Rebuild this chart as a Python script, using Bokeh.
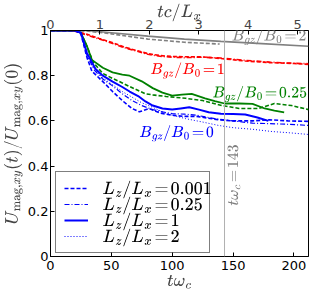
from bokeh.plotting import figure
from bokeh.models import LinearAxis, Range1d, Label, Span, Legend, LegendItem
from bokeh.embed import file_html
from bokeh.resources import INLINE

# ---------------- data ----------------
# B_gz/B0 = 2 (gray)
g_solid_t = [0, 30, 50, 80, 110, 140, 170, 212]
g_solid_v = [1.0, 1.0, 0.99, 0.975, 0.962, 0.952, 0.943, 0.93]
g_dash_t = [0, 30, 50, 80, 110, 139]
g_dash_v = [1.0, 0.998, 0.985, 0.962, 0.948, 0.94]

# B_gz/B0 = 1 (red)
r_dd_t = [0, 20, 30, 40, 50, 60, 70, 80, 90, 100, 110, 125, 140, 160, 180, 200, 212]
r_dd_v = [1.0, 0.997, 0.98, 0.962, 0.945, 0.925, 0.91, 0.895, 0.886, 0.882, 0.88, 0.882, 0.878, 0.868, 0.86, 0.855, 0.853]
r_dash_t = [0, 20, 30, 40, 50, 60, 70, 80, 90, 100, 110, 125, 140, 160, 180, 200, 212]
r_dash_v = [1.0, 0.997, 0.983, 0.965, 0.948, 0.928, 0.912, 0.898, 0.889, 0.885, 0.884, 0.883, 0.876, 0.865, 0.858, 0.854, 0.85]

# B_gz/B0 = 0.25 (green)
gr_solid_t = [0, 20, 25, 30, 34, 43, 51, 59, 65, 75, 84, 92, 100, 108, 116, 127, 135, 143, 155, 166, 176, 184, 192]
gr_solid_v = [1.0, 1.0, 0.99, 0.93, 0.87, 0.835, 0.815, 0.805, 0.8, 0.775, 0.745, 0.725, 0.712, 0.716, 0.72, 0.70, 0.688, 0.677, 0.677, 0.675, 0.655, 0.645, 0.638]
gr_dash_t = [0, 20, 25, 30, 35, 43, 51, 59, 65, 78, 84, 95, 111, 125, 141, 155, 171, 184, 198, 212]
gr_dash_v = [1.0, 1.0, 0.99, 0.93, 0.86, 0.81, 0.788, 0.768, 0.752, 0.72, 0.715, 0.708, 0.70, 0.69, 0.668, 0.655, 0.655, 0.677, 0.668, 0.65]

# B_gz/B0 = 0 (blue), four L_z/L_x
b_dash_t = [0, 20, 25, 30, 34, 43, 51, 59, 67, 73, 81, 90, 100, 110, 120, 138, 150, 166, 180, 195, 212]
b_dash_v = [1.0, 1.0, 0.985, 0.88, 0.82, 0.774, 0.73, 0.69, 0.655, 0.64, 0.655, 0.635, 0.625, 0.62, 0.62, 0.605, 0.60, 0.60, 0.605, 0.60, 0.598]
b_dd_t = [0, 20, 25, 30, 36, 43, 51, 59, 67, 75, 84, 92, 100, 110, 120, 135, 150, 166, 180, 195, 212]
b_dd_v = [1.0, 1.0, 0.987, 0.89, 0.825, 0.785, 0.755, 0.72, 0.69, 0.668, 0.65, 0.64, 0.632, 0.63, 0.625, 0.61, 0.60, 0.59, 0.588, 0.585, 0.58]
b_solid_t = [0, 20, 25, 30, 37, 43, 51, 59, 65, 72, 78, 84, 92, 100, 107, 114, 122, 130, 140, 150, 160, 170, 179]
b_solid_v = [1.0, 1.0, 0.99, 0.9, 0.83, 0.8, 0.774, 0.75, 0.73, 0.71, 0.686, 0.668, 0.655, 0.65, 0.655, 0.66, 0.65, 0.638, 0.632, 0.63, 0.628, 0.615, 0.60]
b_dot_t = [0, 20, 25, 30, 36, 43, 51, 59, 67, 75, 84, 92, 100, 111, 125, 138, 150, 166, 182, 195, 212]
b_dot_v = [1.0, 1.0, 0.987, 0.89, 0.83, 0.79, 0.76, 0.73, 0.705, 0.68, 0.66, 0.64, 0.625, 0.61, 0.595, 0.58, 0.57, 0.563, 0.553, 0.548, 0.54]

legend_labels = ["$$L_z/L_x\\!=\\!0.001$$", "$$L_z/L_x\\!=\\!0.25$$", "$$L_z/L_x\\!=\\!1$$", "$$L_z/L_x\\!=\\!2$$"]
t_marker = 143
tcl_ratio = 40.6  # t*omega_c per unit of tc/L_x
x_max = 212

BLUE, GREEN, RED, GRAY = "#0000ff", "#008000", "#ff0000", "#808080"
DASH, DASHDOT, DOT = "4 2", "5 2 1 2", "1 2"

FW, FH = 258, 226
p = figure(frame_width=FW, frame_height=FH, output_backend="svg", toolbar_location=None,
           x_range=Range1d(0, x_max), y_range=Range1d(0, 1.0),
           min_border_left=43, min_border_right=1, min_border_top=27, min_border_bottom=30)
p.extra_x_ranges = {"top": Range1d(0, x_max / tcl_ratio)}
p.xgrid.visible = False
p.ygrid.visible = False
p.outline_line_color = "black"

# vertical marker
p.add_layout(Span(location=t_marker, dimension="height", line_color="#b0b0b0", line_width=1))

# gray
p.line(g_solid_t, g_solid_v, line_color=GRAY, line_width=1.6)
p.line(g_dash_t, g_dash_v, line_color=GRAY, line_width=1.6, line_dash=DASH)
# red
p.line(r_dash_t, r_dash_v, line_color=RED, line_width=1.6, line_dash=DASH)
p.line(r_dd_t, r_dd_v, line_color=RED, line_width=1.6, line_dash=DASHDOT)
# green
p.line(gr_solid_t, gr_solid_v, line_color=GREEN, line_width=1.8)
p.line(gr_dash_t, gr_dash_v, line_color=GREEN, line_width=1.6, line_dash=DASH)
# blue
l1 = p.line(b_dash_t, b_dash_v, line_color=BLUE, line_width=1.6, line_dash=DASH)
l2 = p.line(b_dd_t, b_dd_v, line_color=BLUE, line_width=1.2, line_dash=DASHDOT)
l3 = p.line(b_solid_t, b_solid_v, line_color=BLUE, line_width=2)
l4 = p.line(b_dot_t, b_dot_v, line_color=BLUE, line_width=1.0, line_dash=DOT)

tick_font = "DejaVu Sans"
for ax in (p.xaxis[0], p.yaxis[0]):
    ax.major_tick_in = 4
    ax.major_tick_out = 0
    ax.minor_tick_line_color = None
    ax.major_label_text_font = tick_font
    ax.major_label_text_font_size = "13px"
    ax.major_label_text_color = "black"
    ax.axis_line_color = "black"
    ax.axis_label_text_font_size = "14px"
    ax.axis_label_text_font_style = "normal"

p.xaxis[0].ticker = [0, 50, 100, 150, 200]
p.yaxis[0].ticker = [0.0, 0.2, 0.4, 0.6, 0.8, 1.0]
p.xaxis[0].major_label_standoff = 4
p.yaxis[0].major_label_standoff = 2
p.xaxis[0].axis_label = "$$t\\omega_c$$"
p.xaxis[0].axis_label_standoff = 2
p.yaxis[0].axis_label = "$$U_{\\mathrm{mag},xy}(t)/U_{\\mathrm{mag},xy}(0)$$"
p.yaxis[0].axis_label_standoff = 2

top = LinearAxis(x_range_name="top", ticker=[0, 1, 2, 3, 4, 5],
                 axis_label="$$tc/L_x$$", axis_label_standoff=-5,
                 major_tick_in=4, major_tick_out=0, minor_tick_line_color=None,
                 major_label_text_font=tick_font, major_label_text_font_size="13px",
                 major_label_standoff=2, axis_label_text_font_size="14px")
p.add_layout(top, "above")

# annotations
lab_kw = dict(text_font_size="12px", text_baseline="middle")
p.add_layout(Label(x=149, y=0.972, text="$$B_{gz}/B_0\\!=\\!2$$", text_color=GRAY, **lab_kw))
p.add_layout(Label(x=82, y=0.823, text="$$B_{gz}/B_0\\!=\\!1$$", text_color=RED, **lab_kw))
p.add_layout(Label(x=133, y=0.72, text="$$B_{gz}/B_0\\!=\\!0.25$$", text_color=GREEN, **lab_kw))
p.add_layout(Label(x=73, y=0.545, text="$$B_{gz}/B_0\\!=\\!0$$", text_color=BLUE, **lab_kw))
p.add_layout(Label(x=151, y=0.225, text="$$t\\omega_c\\!=\\!143$$", text_color=GRAY, angle=90,
                   angle_units="deg", text_align="left", text_baseline="middle",
                   text_font_size="12px"))

# legend: sample lines from the Legend model, math labels drawn as Labels on top
PAD, ROW, GW, STAND = 8, 16, 24, 15
legend = Legend(items=[LegendItem(label=" ", renderers=[r]) for r in (l1, l2, l3, l4)],
                location=(5, 3), border_line_color="black", border_line_width=1,
                label_text_font_size="1px", glyph_width=GW, glyph_height=ROW,
                label_height=ROW, label_width=98, label_standoff=STAND,
                spacing=0, padding=PAD, margin=0, background_fill_color="white",
                background_fill_alpha=0.0)
p.add_layout(legend, "center")

px_per_x = FW / x_max
px_per_y = FH / 1.0
leg_h = 2 * PAD + 4 * ROW
text_x_px = 5 + PAD + GW + STAND
for i, lab in enumerate(legend_labels):
    y_px = 3 + leg_h - PAD - ROW * (i + 0.5)
    p.add_layout(Label(x=text_x_px / px_per_x, y=y_px / px_per_y, text=lab, level="overlay",
                       text_font_size="14px", text_baseline="middle", text_color="black"))

open("out.html", "w").write(file_html(p, INLINE))
